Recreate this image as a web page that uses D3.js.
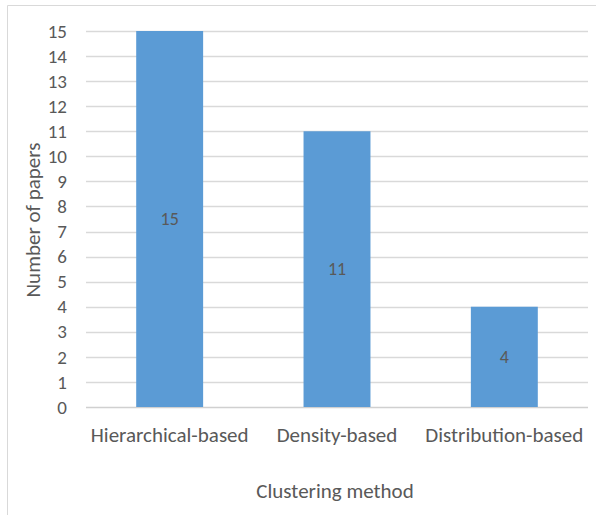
<!DOCTYPE html>
<html>
<head>
<meta charset="utf-8">
<script src="https://cdn.jsdelivr.net/npm/d3@7"></script>
<style>
  html, body { margin: 0; padding: 0; background: #fff; }
  svg { display: block; }
  text { font-family: Carlito, Calibri, Lato, sans-serif; fill: #595959; }
</style>
</head>
<body>
<svg id="chart" width="596" height="515"></svg>
<script>
// Number of papers per clustering method
const categories = ["Hierarchical-based", "Density-based", "Distribution-based"];
const paperCounts = [15, 11, 4];
const yTicks = d3.range(0, 16);
const xTitle = "Clustering method";
const yTitle = "Number of papers";

const W = 596, H = 515;
const plot = { left: 86, right: 588, top: 31, bottom: 407 };

const svg = d3.select("#chart");

// chart frame (top and left edges visible)
svg.append("path")
  .attr("d", `M7.5,${H} V5.5 H${W}`)
  .attr("fill", "none")
  .attr("stroke", "#d9d9d9")
  .attr("stroke-width", 1);

const x = d3.scaleBand()
  .domain(categories)
  .range([plot.left, plot.right])
  .padding(0);

const y = d3.scaleLinear()
  .domain([0, 15])
  .range([plot.bottom, plot.top]);

// horizontal gridlines
svg.append("g")
  .selectAll("line")
  .data(yTicks)
  .join("line")
  .attr("x1", plot.left)
  .attr("x2", plot.right)
  .attr("y1", d => Math.round(y(d)) + 0.5)
  .attr("y2", d => Math.round(y(d)) + 0.5)
  .attr("stroke", d => d === 0 ? "#d0d0d0" : "#d9d9d9")
  .attr("stroke-width", 1.3);

// y tick labels
svg.append("g")
  .selectAll("text")
  .data(yTicks)
  .join("text")
  .attr("x", 67)
  .attr("y", d => y(d))
  .attr("dy", "0.35em")
  .attr("text-anchor", "end")
  .attr("font-size", 19)
  .text(d => d);

// bars
const barW = x.bandwidth() * 0.4;
const bars = svg.append("g")
  .selectAll("g")
  .data(categories.map((c, i) => ({ c, v: paperCounts[i] })))
  .join("g");

bars.append("rect")
  .attr("x", d => x(d.c) + (x.bandwidth() - barW) / 2)
  .attr("y", d => y(d.v))
  .attr("width", barW)
  .attr("height", d => y(0) - y(d.v))
  .attr("fill", "#5b9bd5");

// value labels centred in each bar
bars.append("text")
  .attr("x", d => x(d.c) + x.bandwidth() / 2)
  .attr("y", d => (y(d.v) + y(0)) / 2)
  .attr("dy", "0.35em")
  .attr("text-anchor", "middle")
  .attr("font-size", 18)
  .text(d => d.v);

// category labels
svg.append("g")
  .selectAll("text")
  .data(categories)
  .join("text")
  .attr("x", d => x(d) + x.bandwidth() / 2)
  .attr("y", 435)
  .attr("dy", "0.35em")
  .attr("text-anchor", "middle")
  .attr("font-size", 21)
  .text(d => d);

// axis titles
svg.append("text")
  .attr("x", 335)
  .attr("y", 491)
  .attr("dy", "0.35em")
  .attr("text-anchor", "middle")
  .attr("font-size", 21)
  .text(xTitle);

svg.append("text")
  .attr("transform", `translate(33,220) rotate(-90)`)
  .attr("dy", "0.35em")
  .attr("text-anchor", "middle")
  .attr("font-size", 21)
  .text(yTitle);
</script>
</body>
</html>
